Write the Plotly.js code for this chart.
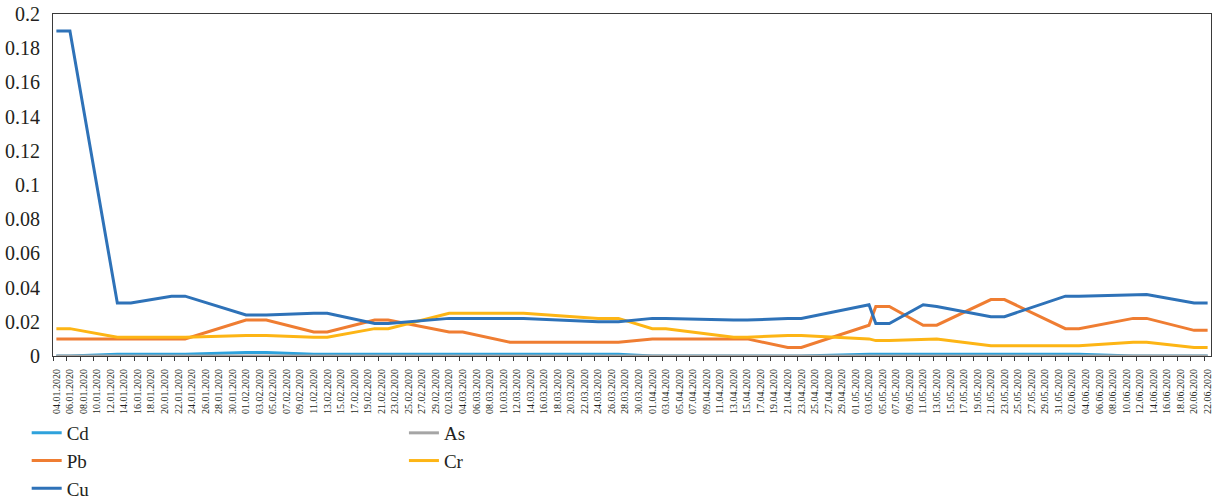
<!DOCTYPE html>
<html><head><meta charset="utf-8">
<script src="https://cdn.plot.ly/plotly-3.0.1.min.js"></script>
<style>html,body{margin:0;padding:0;background:#fff}#chart{width:1213px;height:500px}</style>
</head><body><div id="chart"></div>
<script>
// Sampling dates (x values)
const sampleDates = ['2020-01-04','2020-01-06','2020-01-13','2020-01-15','2020-01-21','2020-01-23',
  '2020-02-01','2020-02-04','2020-02-11','2020-02-13','2020-02-20','2020-02-22',
  '2020-03-02','2020-03-04','2020-03-11','2020-03-13','2020-03-24','2020-03-27',
  '2020-04-01','2020-04-03','2020-04-13','2020-04-15','2020-04-21','2020-04-23',
  '2020-05-03','2020-05-04','2020-05-06','2020-05-11','2020-05-13','2020-05-21','2020-05-23',
  '2020-06-01','2020-06-03','2020-06-11','2020-06-13','2020-06-20','2020-06-22'];

const seriesNames = ['Cd','As','Pb','Cr','Cu'];

const cdValues = [0,0,0.001,0.001,0.001,0.001,0.002,0.002,0.001,0.001,0.001,0.001,
  0.001,0.001,0.001,0.001,0.001,0.001,0,0,0,0,0,0,
  0.001,0.001,0.001,0.001,0.001,0.001,0.001,0.001,0.001,0,0,0,0];
const asValues = [0,0,0,0,0,0,0,0,0,0,0,0,
  0,0,0,0,0,0,0,0,0,0,0,0,
  0,0,0,0,0,0,0,0,0,0,0,0,0];
const pbValues = [0.010,0.010,0.010,0.010,0.010,0.010,0.021,0.021,0.014,0.014,0.021,0.021,
  0.014,0.014,0.008,0.008,0.008,0.008,0.010,0.010,0.010,0.010,0.005,0.005,
  0.018,0.029,0.029,0.018,0.018,0.033,0.033,0.016,0.016,0.022,0.022,0.015,0.015];
const crValues = [0.016,0.016,0.011,0.011,0.011,0.011,0.012,0.012,0.011,0.011,0.016,0.016,
  0.025,0.025,0.025,0.025,0.022,0.022,0.016,0.016,0.011,0.011,0.012,0.012,
  0.010,0.009,0.009,0.010,0.010,0.006,0.006,0.006,0.006,0.008,0.008,0.005,0.005];
const cuValues = [0.19,0.19,0.031,0.031,0.035,0.035,0.024,0.024,0.025,0.025,0.019,0.019,
  0.022,0.022,0.022,0.022,0.020,0.020,0.022,0.022,0.021,0.021,0.022,0.022,
  0.030,0.019,0.019,0.030,0.029,0.023,0.023,0.035,0.035,0.036,0.036,0.031,0.031];

const yTickValues = [0,0.02,0.04,0.06,0.08,0.1,0.12,0.14,0.16,0.18,0.2];

const colors = {Cd:'#2ea2dc', As:'#a5a5a5', Pb:'#ef7d32', Cr:'#fdb515', Cu:'#2e72b8'};
const valuesByName = {Cd:cdValues, As:asValues, Pb:pbValues, Cr:crValues, Cu:cuValues};
const legendOf = {Cd:'legend', Pb:'legend', Cu:'legend', As:'legend2', Cr:'legend2'};

const traces = seriesNames.map(n => ({
  type:'scatter', mode:'lines', name:n, x:sampleDates, y:valuesByName[n],
  line:{color:colors[n], width:3, shape:'linear'}, legend:legendOf[n]
}));

const DAY = 86400000;
const fontFam = 'Liberation Serif';
const txt = '#231f20';
const layout = {
  width:1213, height:500,
  margin:{l:53, r:2, t:14, b:144, autoexpand:false},
  paper_bgcolor:'#ffffff', plot_bgcolor:'#ffffff',
  font:{family:fontFam, color:txt},
  showlegend:true,
  xaxis:{
    type:'date', range:['2020-01-03 12:00','2020-06-22 12:00'], automargin:false,
    tickmode:'linear', tick0:'2020-01-04', dtick:2*DAY, tickformat:'%d.%m.%Y',
    tickangle:-90, tickfont:{size:10, family:fontFam, color:txt},
    ticks:'', showline:true, linecolor:'#3a3a3a', linewidth:1, mirror:true,
    showgrid:false, zeroline:false, ticklabelstandoff:8,
    minor:{ticks:'outside', ticklen:4, tickwidth:1, tickcolor:'#3a3a3a', tick0:'2020-01-03 12:00', dtick:2*DAY, showgrid:false}
  },
  yaxis:{
    range:[0,0.2], tickmode:'array', tickvals:yTickValues, automargin:false,
    ticks:'', showline:true, linecolor:'#3a3a3a', linewidth:1, mirror:true,
    showgrid:false, zeroline:false, tickfont:{size:20, family:fontFam, color:txt},
    ticklabelstandoff:8
  },
  legend:{xref:'container', yref:'container', x:0.022, xanchor:'left', y:0.172, yanchor:'top', orientation:'v',
    font:{size:19, family:fontFam, color:txt}, bgcolor:'rgba(0,0,0,0)', traceorder:'normal'},
  legend2:{xref:'container', yref:'container', x:0.333, xanchor:'left', y:0.172, yanchor:'top', orientation:'v',
    font:{size:19, family:fontFam, color:txt}, bgcolor:'rgba(0,0,0,0)', traceorder:'normal'}
};

Plotly.newPlot('chart', traces, layout, {displayModeBar:false, staticPlot:true});
</script>
</body></html>
